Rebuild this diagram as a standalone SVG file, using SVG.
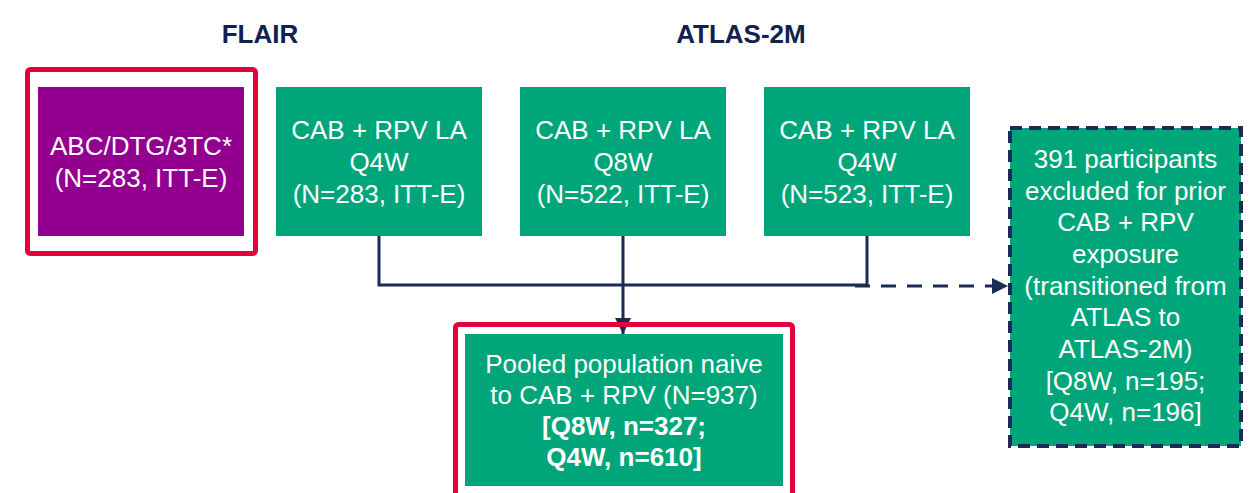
<svg xmlns="http://www.w3.org/2000/svg" width="1256" height="493" viewBox="0 0 1256 493">
<defs>
<style>
.hdr{font-family:"Liberation Sans",Arial,sans-serif;font-size:26px;font-weight:bold;fill:#12214f;text-anchor:middle}
.t{font-family:"Liberation Sans",Arial,sans-serif;font-size:26px;fill:#ffffff;text-anchor:middle}
.b{font-weight:bold}
.green{fill:#00a679}
.purple{fill:#93008f}
.hl{fill:none;stroke:#e4003b;stroke-width:5}
.line{fill:none;stroke:#1b2a56;stroke-width:3}
</style>
<marker id="arr" viewBox="0 0 10 10" refX="10" refY="5" markerWidth="5.5" markerHeight="5.5" orient="auto" markerUnits="strokeWidth">
<path d="M0,0 L10,5 L0,10 Z" fill="#1b2a56"/>
</marker>
</defs>
<rect width="1256" height="493" fill="#ffffff"/>
<text class="hdr" x="260" y="43">FLAIR</text>
<text class="hdr" x="741" y="43">ATLAS-2M</text>
<g id="connectors">
<polyline class="line" points="379,236 379,285 867,285 867,236"/>
<line class="line" x1="623" y1="236" x2="623" y2="334" marker-end="url(#arr)"/>
<line class="line" x1="855" y1="286" x2="1008" y2="286" stroke-dasharray="15,11" marker-end="url(#arr)"/>
</g>
<g id="flair">
<rect class="hl" x="27.5" y="69.5" width="228" height="184" rx="3"/>
<rect class="purple" x="38" y="87" width="206" height="149"/>
<text class="t" x="141" y="155">ABC/DTG/3TC*</text>
<text class="t" x="141" y="187">(N=283, ITT-E)</text>
</g>
<g id="flair-cab">
<rect class="green" x="276" y="87" width="206" height="149"/>
<text class="t" x="379" y="139">CAB + RPV LA</text>
<text class="t" x="379" y="171">Q4W</text>
<text class="t" x="379" y="203">(N=283, ITT-E)</text>
</g>
<g id="atlas-q8w">
<rect class="green" x="520" y="87" width="206" height="149"/>
<text class="t" x="623" y="139">CAB + RPV LA</text>
<text class="t" x="623" y="171">Q8W</text>
<text class="t" x="623" y="203">(N=522, ITT-E)</text>
</g>
<g id="atlas-q4w">
<rect class="green" x="764" y="87" width="206" height="149"/>
<text class="t" x="867" y="139">CAB + RPV LA</text>
<text class="t" x="867" y="171">Q4W</text>
<text class="t" x="867" y="203">(N=523, ITT-E)</text>
</g>
<g id="excluded">
<rect class="green" x="1010" y="128" width="231" height="318" stroke="#1b2a56" stroke-width="4" stroke-dasharray="12,7"/>
<text class="t" x="1125.5" y="168">391 participants</text>
<text class="t" x="1125.5" y="199.7">excluded for prior</text>
<text class="t" x="1125.5" y="231.3">CAB + RPV</text>
<text class="t" x="1125.5" y="263">exposure</text>
<text class="t" x="1125.5" y="294.7">(transitioned from</text>
<text class="t" x="1125.5" y="326.3">ATLAS to</text>
<text class="t" x="1125.5" y="358">ATLAS-2M)</text>
<text class="t" x="1125.5" y="389.7">[Q8W, n=195;</text>
<text class="t" x="1125.5" y="421.3">Q4W, n=196]</text>
</g>
<g id="pooled">
<rect class="hl" x="455.5" y="324.5" width="337" height="175" rx="3"/>
<rect class="green" x="465" y="334" width="318" height="152"/>
<text class="t" x="624" y="373">Pooled population naive</text>
<text class="t" x="624" y="404">to CAB + RPV (N=937)</text>
<text class="t b" x="624" y="435">[Q8W, n=327;</text>
<text class="t b" x="624" y="466">Q4W, n=610]</text>
</g>
</svg>
